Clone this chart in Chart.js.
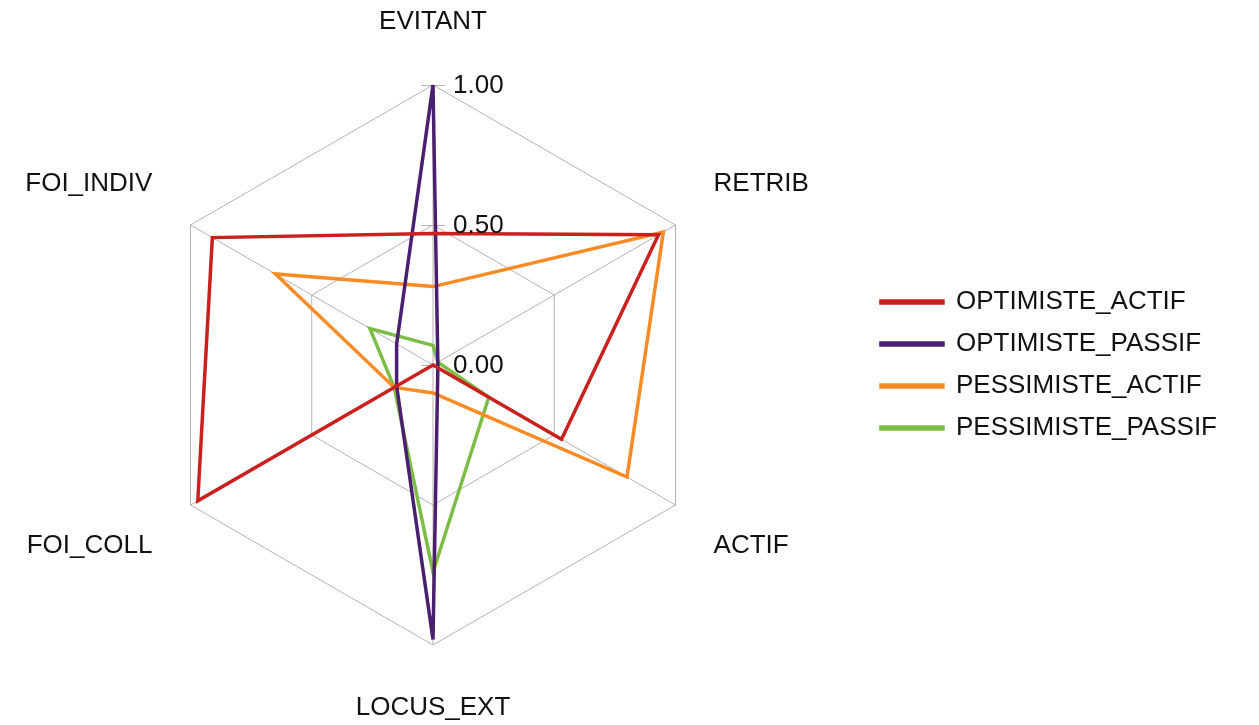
<!DOCTYPE html>
<html>
<head>
<meta charset="utf-8">
<title>Radar</title>
<script src="https://cdn.jsdelivr.net/npm/chart.js@4.4.1/dist/chart.umd.min.js"></script>
<style>
  html, body { margin: 0; padding: 0; background: #fff; }
  #wrap { width: 1259px; height: 725px; }
</style>
</head>
<body>
<div id="wrap"><canvas id="radar" width="1259" height="725"></canvas></div>
<script>
// axes, clockwise from the top
const categories = ['EVITANT', 'RETRIB', 'ACTIF', 'LOCUS_EXT', 'FOI_COLL', 'FOI_INDIV'];

const optimisteActif   = [0.47, 0.93, 0.53, 0.00, 0.97, 0.91];
const optimistePassif  = [1.00, 0.02, 0.02, 0.98, 0.15, 0.15];
const pessimisteActif  = [0.28, 0.95, 0.80, 0.10, 0.16, 0.65];
const pessimistePassif = [0.07, 0.02, 0.23, 0.74, 0.16, 0.26];

const seriesNames = ['OPTIMISTE_ACTIF', 'OPTIMISTE_PASSIF', 'PESSIMISTE_ACTIF', 'PESSIMISTE_PASSIF'];
const seriesColors = ['#c9211e', '#4b1f6f', '#f98b24', '#7cbd45'];

const tickValues = [0, 0.5, 1];
const tickLabels = ['0.00', '0.50', '1.00'];

const FONT = '"Liberation Sans", Arial, sans-serif';
const TEXT = '#111';

// category names and tick labels, placed from the radial scale itself
const radarText = {
    id: 'radarText',
    beforeDatasetsDraw(chart) {
        const s = chart.scales.r;
        const ctx = chart.ctx;
        ctx.save();
        ctx.strokeStyle = '#b3b3b3';
        ctx.lineWidth = 1;
        tickValues.forEach(v => {
            const y = s.yCenter - s.getDistanceFromCenterForValue(v);
            ctx.beginPath();
            ctx.moveTo(s.xCenter - 12, y + 0.5);
            ctx.lineTo(s.xCenter + 12, y + 0.5);
            ctx.stroke();
        });
        ctx.restore();
    },
    afterDatasetsDraw(chart) {
        const s = chart.scales.r;
        const ctx = chart.ctx;
        ctx.save();
        ctx.font = '26px ' + FONT;
        ctx.fillStyle = TEXT;
        ctx.textBaseline = 'middle';

        categories.forEach((name, i) => {
            const deg = Math.round(s.getIndexAngle(i) * 180 / Math.PI) % 360;
            if (deg === 0 || deg === 180) {
                const p = s.getPointPosition(i, s.drawingArea + 63);
                ctx.textAlign = 'center';
                ctx.fillText(name, p.x, p.y);
            } else {
                const p = s.getPointPosition(i, s.drawingArea + 44);
                ctx.textAlign = deg < 180 ? 'left' : 'right';
                const upper = deg < 90 || deg > 270;
                ctx.fillText(name, p.x, p.y + (upper ? -19 : 19));
            }
        });

        ctx.textAlign = 'left';
        tickValues.forEach((v, i) => {
            const y = s.yCenter - s.getDistanceFromCenterForValue(v);
            ctx.fillText(tickLabels[i], s.xCenter + 20, y + 1);
        });
        ctx.restore();
    }
};

const datasets = [optimisteActif, optimistePassif, pessimisteActif, pessimistePassif].map((vals, k) => ({
    label: seriesNames[k],
    data: vals,
    borderColor: seriesColors[k],
    backgroundColor: seriesColors[k],
    borderWidth: 3.5,
    fill: false,
    pointRadius: 0,
    pointHoverRadius: 0,
    tension: 0
}));

new Chart(document.getElementById('radar'), {
    type: 'radar',
    data: {
        labels: categories,
        datasets: datasets
    },
    options: {
        responsive: false,
        animation: false,
        layout: {
            padding: { top: 85, bottom: 80, left: 2, right: 32 }
        },
        scales: {
            r: {
                min: 0,
                max: 1,
                ticks: { display: false, stepSize: 0.5 },
                pointLabels: { display: false },
                grid: { color: '#b3b3b3', lineWidth: 1 },
                angleLines: { color: '#b3b3b3', lineWidth: 1 }
            }
        },
        plugins: {
            legend: {
                position: 'right',
                labels: {
                    boxWidth: 62,
                    boxHeight: 2,
                    padding: 16,
                    color: TEXT,
                    font: { size: 26, family: FONT }
                }
            },
            tooltip: { enabled: false }
        }
    },
    plugins: [radarText]
});
</script>
</body>
</html>
